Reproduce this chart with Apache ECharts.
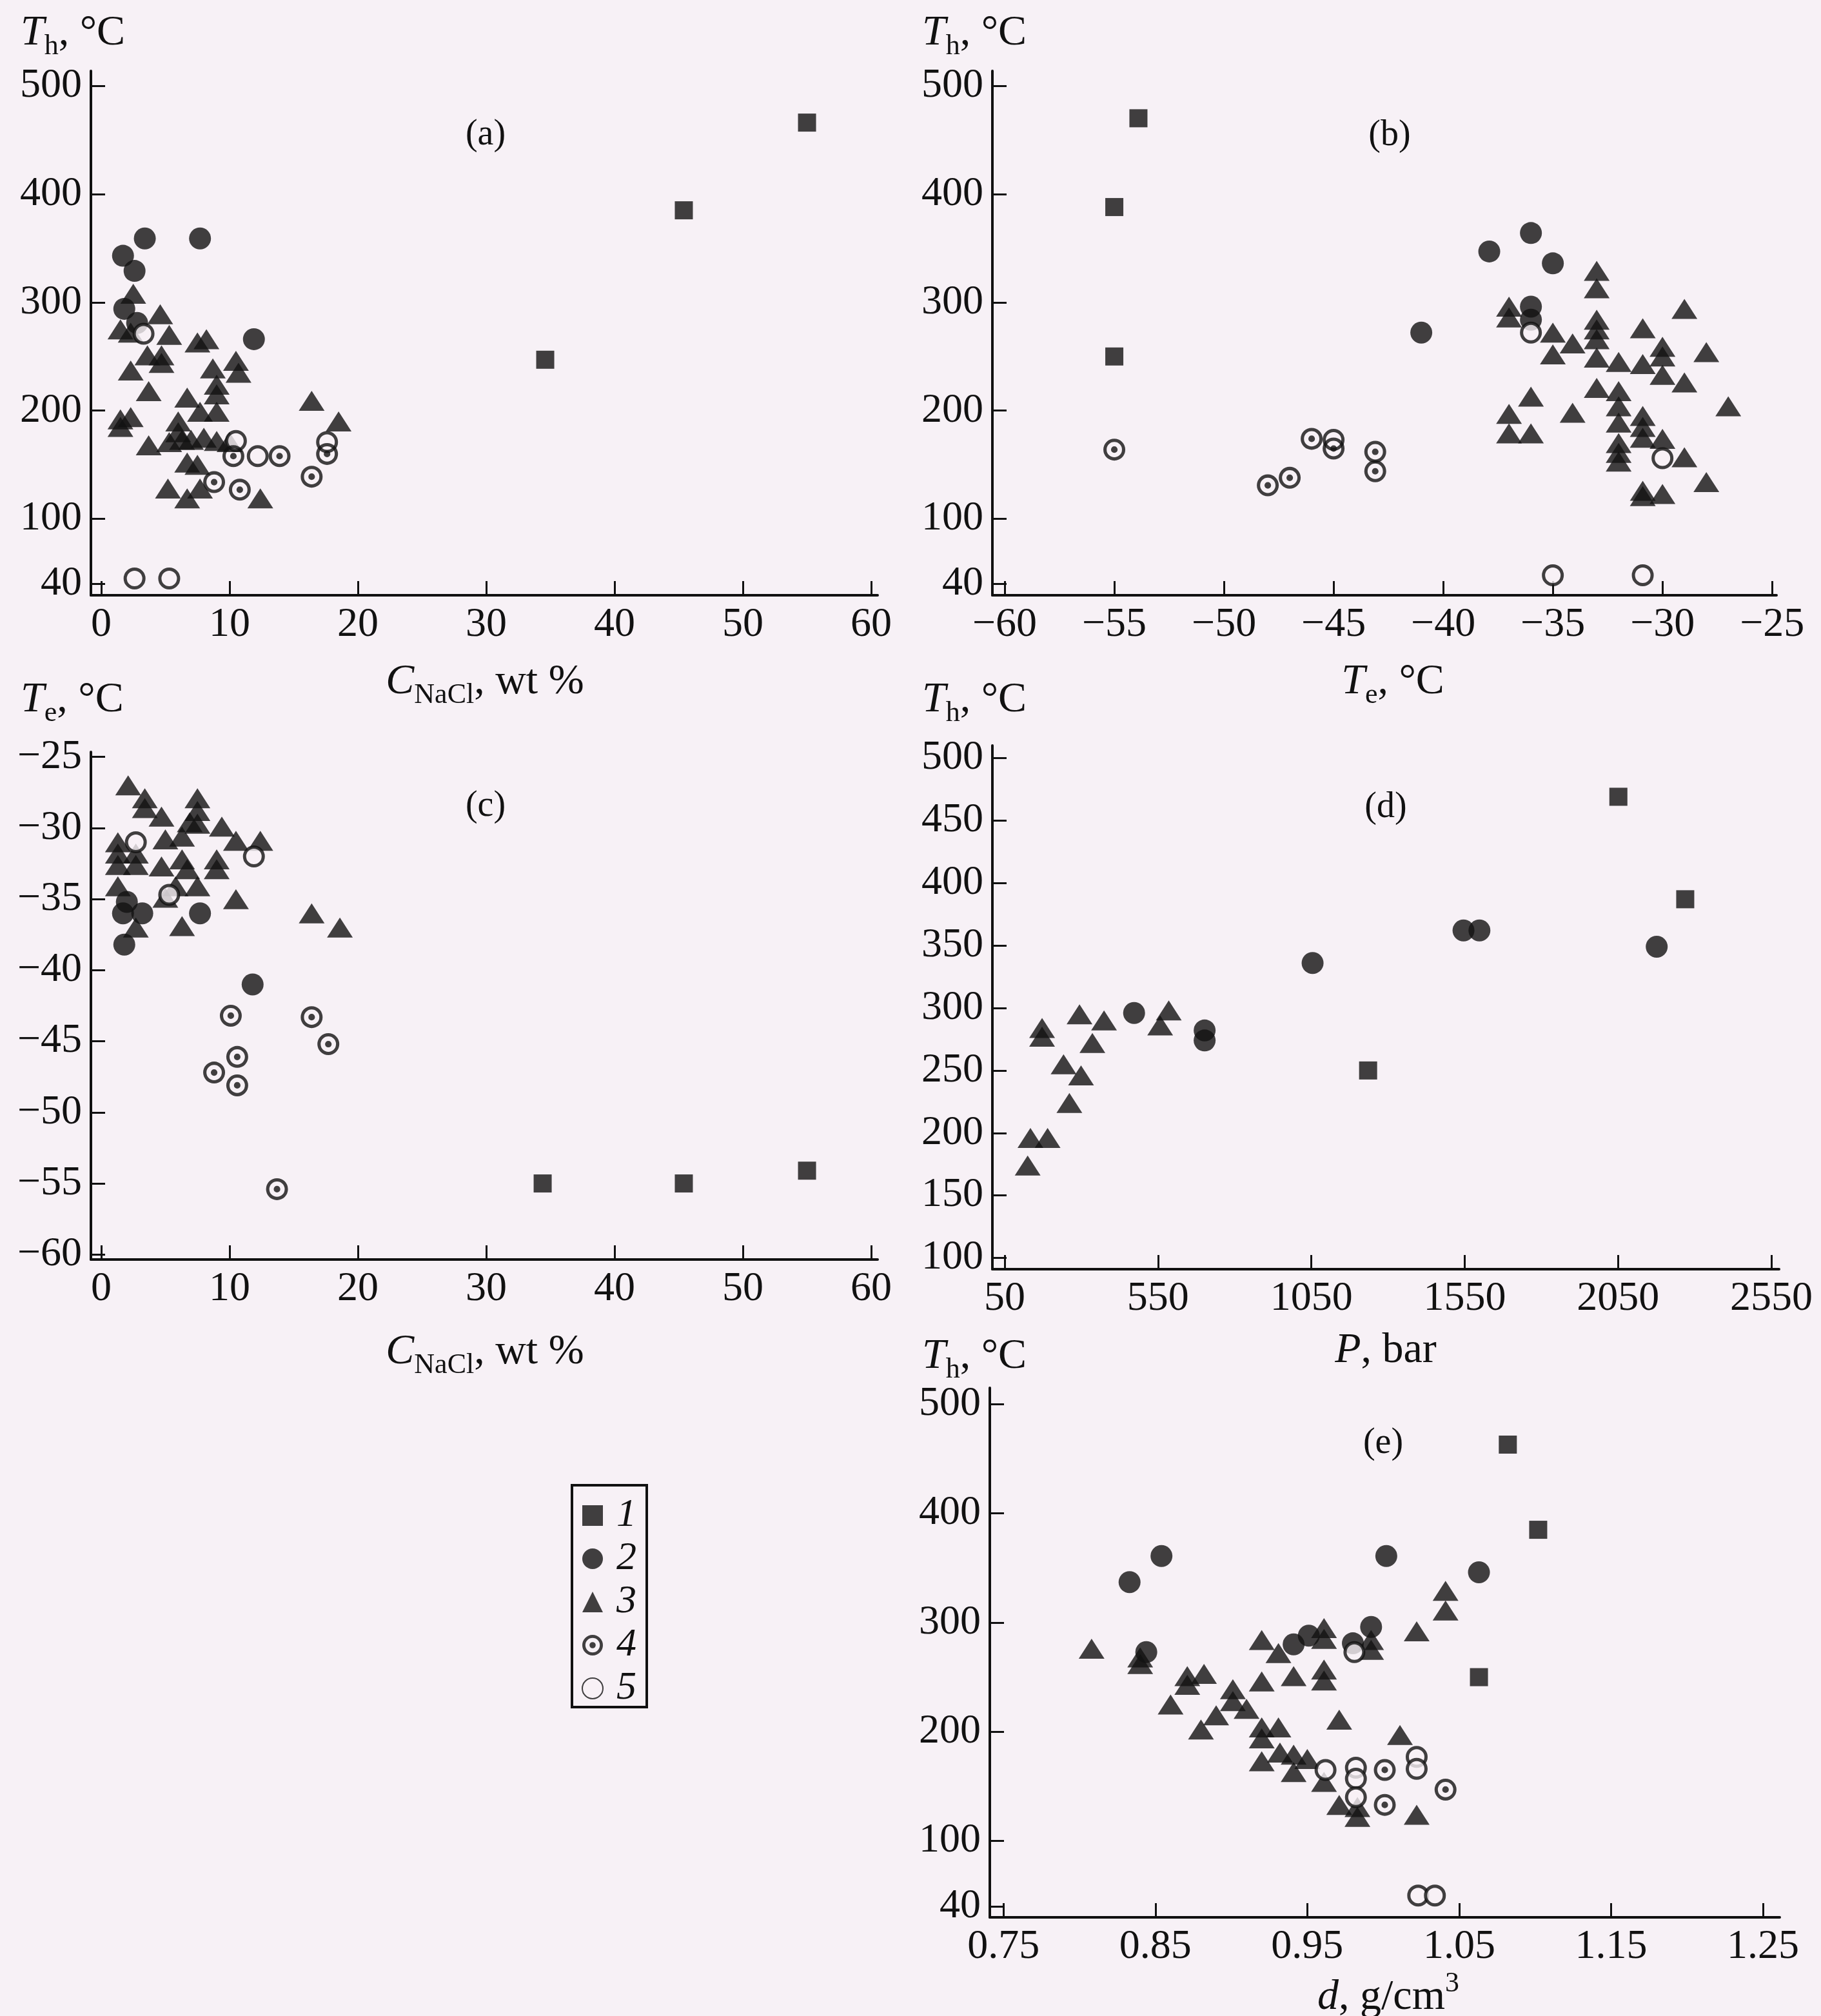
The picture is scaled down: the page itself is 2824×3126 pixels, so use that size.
<!DOCTYPE html>
<html>
<head>
<meta charset="utf-8">
<script src="https://cdn.jsdelivr.net/npm/echarts@6/dist/echarts.min.js"></script>
<style>
  html, body { margin: 0; padding: 0; background: #f7f1f6; }
  #chart { width: 2824px; height: 3126px; }
</style>
</head>
<body>
<div id="chart"></div>
<script>
// ---- tick values ----
const thTicks = [40, 100, 200, 300, 400, 500];
const naclTicks = [0, 10, 20, 30, 40, 50, 60];
const teXTicks = [-60, -55, -50, -45, -40, -35, -30, -25];
const teYTicks = [-60, -55, -50, -45, -40, -35, -30, -25];
const pTicks = [50, 550, 1050, 1550, 2050, 2550];
const thTicksD = [100, 150, 200, 250, 300, 350, 400, 450, 500];
const dTicks = [0.75, 0.85, 0.95, 1.05, 1.15, 1.25];

// ---- (a) Th vs C NaCl ----
const aSquare = [[34.6, 247], [45.4, 385], [55.0, 466]];
const aCircle = [[3.4, 359], [7.7, 359], [1.7, 343], [2.6, 329], [1.8, 294], [2.8, 281], [11.9, 266]];
const aTriangle = [[2.5, 308], [4.6, 289], [1.5, 275], [2.3, 272], [5.3, 270], [7.5, 263], [8.2, 266],
  [3.6, 251], [4.7, 251], [4.7, 244], [2.3, 237], [8.7, 239], [10.5, 246], [10.7, 235], [3.7, 218],
  [6.7, 212], [9.0, 224], [9.0, 215], [7.7, 199], [9.0, 199], [1.5, 192], [2.3, 194], [1.5, 185],
  [16.4, 209], [18.5, 190], [6.0, 190], [6.0, 180], [3.7, 168], [5.3, 171], [6.3, 173], [7.0, 173],
  [8.0, 175], [9.0, 172], [10.0, 171], [6.7, 152], [7.5, 150], [5.2, 128], [7.7, 128], [6.7, 119], [12.4, 119]];
const aDotted = [[10.3, 158], [13.9, 158], [16.4, 139], [8.8, 134], [10.8, 127], [17.6, 160]];
const aOpen = [[10.5, 172], [12.2, 158], [3.3, 271], [17.6, 171], [2.6, 45], [5.3, 45]];

// ---- (b) Th vs Te ----
const bSquare = [[-53.9, 470], [-55, 388], [-55, 250]];
const bCircle = [[-37.9, 347], [-36.0, 364], [-35.0, 336], [-36.0, 296], [-36.0, 284], [-41.0, 272]];
const bTriangle = [[-37, 296], [-37, 286], [-35, 272], [-34.1, 262], [-35, 252], [-33, 329], [-33, 313],
  [-33, 284], [-33, 275], [-33, 266], [-33, 249], [-32, 245], [-30.9, 276], [-30.9, 243], [-30, 259],
  [-30, 250], [-30, 233], [-29, 294], [-29, 226], [-28, 254], [-27, 204], [-36, 213], [-37, 197],
  [-37, 179], [-36, 179], [-34.1, 198], [-33, 221], [-32, 218], [-32, 204], [-32, 189], [-30.9, 195],
  [-30.9, 185], [-30.9, 175], [-30, 174], [-32, 170], [-32, 161], [-32, 153], [-29, 157], [-30.9, 126],
  [-30.9, 121], [-30, 123], [-28, 134]];
const bDotted = [[-55, 164], [-48, 131], [-47, 138], [-46, 174], [-45, 165], [-43.1, 162], [-43.1, 144]];
const bOpen = [[-45, 173], [-36, 272], [-30, 156], [-35, 48], [-30.9, 48]];

// ---- (c) Te vs C NaCl ----
const cSquare = [[34.4, -55], [45.4, -55], [55.0, -54.1]];
const cCircle = [[2.0, -35.2], [1.7, -36.0], [3.2, -36.0], [1.8, -38.2], [7.7, -36.0], [11.8, -41.0]];
const cTriangle = [[2.1, -27.0], [3.4, -27.9], [3.4, -28.6], [4.7, -29.2], [7.5, -27.9], [7.5, -28.8],
  [6.9, -29.6], [7.5, -29.7], [9.4, -29.9], [10.5, -30.9], [12.4, -30.9], [1.3, -31.0], [1.3, -31.8],
  [1.3, -32.6], [2.7, -31.8], [2.7, -32.6], [5.0, -30.8], [6.3, -30.6], [4.7, -32.7], [6.3, -32.2],
  [6.7, -32.9], [9.0, -32.2], [9.0, -32.9], [1.3, -34.1], [5.8, -34.1], [7.5, -34.1], [5.0, -34.9],
  [10.5, -35.0], [2.7, -37.0], [6.3, -36.9], [16.4, -36.0], [18.6, -37.0]];
const cDotted = [[10.1, -43.2], [16.4, -43.3], [17.7, -45.2], [10.6, -46.1], [8.8, -47.2], [10.6, -48.1], [13.7, -55.4]];
const cOpen = [[2.7, -31.0], [11.9, -32.0], [5.3, -34.7]];

// ---- (d) Th vs P ----
const dSquare = [[2051, 469], [2269, 387], [1235, 250]];
const dCircle = [[472, 296], [702, 282], [702, 274], [1054, 336], [1546, 362], [1598, 362], [2176, 349]];
const dTriangle = [[172, 284], [172, 277], [294, 295], [374, 290], [336, 272], [585, 298], [557, 286],
  [242, 255], [299, 246], [261, 224], [134, 196], [190, 196], [125, 174]];
const dDotted = [];
const dOpen = [];

// ---- (e) Th vs density ----
const eSquare = [[1.082, 463], [1.102, 385], [1.063, 250]];
const eCircle = [[0.854, 361], [0.833, 337], [0.844, 273], [1.002, 361], [1.063, 346], [0.992, 296],
  [0.941, 280], [0.951, 288], [0.980, 281]];
const eTriangle = [[0.808, 276], [0.840, 268], [0.840, 262], [0.871, 251], [0.871, 243], [0.882, 253],
  [0.860, 225], [0.880, 202], [0.890, 215], [0.901, 239], [0.901, 228], [0.910, 221], [0.920, 284],
  [0.931, 272], [0.920, 246], [0.941, 251], [0.961, 295], [0.961, 285], [0.961, 257], [0.961, 247],
  [0.992, 284], [0.992, 275], [1.022, 292], [1.041, 329], [1.041, 311], [0.971, 211], [1.011, 197],
  [0.920, 204], [0.931, 204], [0.920, 194], [0.920, 173], [0.932, 181], [0.941, 179], [0.950, 175],
  [0.941, 163], [0.961, 154], [0.971, 133], [0.983, 131], [0.983, 122], [1.022, 124]];
const eDotted = [[1.001, 165], [1.001, 133], [1.041, 147]];
const eOpen = [[0.982, 167], [0.982, 157], [0.982, 140], [1.022, 177], [1.022, 166], [0.962, 165],
  [0.981, 273], [1.023, 50], [1.034, 50]];

const FONT = '"Liberation Serif", "Times New Roman", serif';
const INK = '#111111';
const BG = '#f7f1f6';
const RING = 'path://M0,-10A10,10,0,1,1,0,10A10,10,0,1,1,0,-10ZM0,-7A7,7,0,1,0,0,7A7,7,0,1,0,0,-7ZM0,-3A3,3,0,1,1,0,3A3,3,0,1,1,0,-3Z';

const minus = v => (v < 0 ? '\u2212' + Math.abs(v) : String(v));

function xAx(i, min, max, ticks, fmt) {
  return {
    type: 'value', gridIndex: i, min: min, max: max,
    axisLine: { show: true, onZero: false, lineStyle: { color: INK, width: 4 } },
    axisTick: { show: true, inside: true, length: 22, customValues: ticks, lineStyle: { color: INK, width: 3 } },
    axisLabel: { customValues: ticks, margin: 14, fontFamily: FONT, fontSize: 64, color: INK, formatter: fmt || minus },
    splitLine: { show: false }
  };
}
function yAx(i, min, max, ticks) {
  return {
    type: 'value', gridIndex: i, min: min, max: max,
    axisLine: { show: true, onZero: false, lineStyle: { color: INK, width: 4 } },
    axisTick: { show: true, inside: true, length: 22, customValues: ticks, lineStyle: { color: INK, width: 3 } },
    axisLabel: { customValues: ticks, margin: 14, fontFamily: FONT, fontSize: 64, color: INK, formatter: minus },
    splitLine: { show: false }
  };
}

function panel(i, sq, ci, tr, dt, op) {
  const base = { type: 'scatter', xAxisIndex: i, yAxisIndex: i, silent: true, animation: false };
  return [
    Object.assign({}, base, { name: '3', data: tr, symbol: 'triangle', symbolSize: [40, 31], itemStyle: { color: INK } }),
    Object.assign({}, base, { name: '2', data: ci, symbol: 'circle', symbolSize: 34, itemStyle: { color: INK } }),
    Object.assign({}, base, { name: '1', data: sq, symbol: 'rect', symbolSize: 28, itemStyle: { color: INK } }),
    Object.assign({}, base, { name: '5', data: op, symbol: 'circle', symbolSize: 29, itemStyle: { color: BG, borderColor: INK, borderWidth: 5 } }),
    Object.assign({}, base, { name: '4', data: dt, symbol: RING, symbolSize: 34, itemStyle: { color: INK } })
  ];
}

// text pieces: [text, kind]  i = italic, n = normal, s = subscript, p = superscript
const mctx = document.createElement('canvas').getContext('2d');
function tw(t, size, italic) {
  mctx.font = (italic ? 'italic ' : '') + size + 'px "Liberation Serif"';
  return mctx.measureText(t).width;
}
function label(pieces, x, y, center) {
  const items = pieces.map(p => {
    const size = (p[1] === 's' || p[1] === 'p') ? 44 : 66;
    return { t: p[0], k: p[1], size: size, w: tw(p[0], size, p[1] === 'i') };
  });
  const total = items.reduce((s, it) => s + it.w, 0);
  let cx = center ? x - total / 2 : x;
  return items.map(it => {
    const el = {
      type: 'text', x: cx, y: y + (it.k === 's' ? 20 : it.k === 'p' ? -22 : 0), silent: true,
      style: { text: it.t, fontSize: it.size, fontFamily: FONT, fontStyle: it.k === 'i' ? 'italic' : 'normal',
        fill: INK, align: 'left', verticalAlign: 'middle' }
    };
    cx += it.w;
    return el;
  });
}
function tag(t, x, y) {
  return { type: 'text', x: x, y: y, silent: true,
    style: { text: t, fontSize: 56, fontFamily: FONT, fill: INK, align: 'center', verticalAlign: 'middle' } };
}

const thName = [['T', 'i'], ['h', 's'], [', \u00B0C', 'n']];
const teName = [['T', 'i'], ['e', 's'], [', \u00B0C', 'n']];
const naclName = [['C', 'i'], ['NaCl', 's'], [', wt %', 'n']];

const elements = [].concat(
  label(thName, 32, 52, false),
  label(thName, 1430, 52, false),
  label(teName, 32, 1086, false),
  label(thName, 1430, 1086, false),
  label(thName, 1430, 2104, false),
  label(naclName, 752, 1058, true),
  label(teName, 2160, 1058, true),
  label(naclName, 752, 2097, true),
  label([['P', 'i'], [', bar', 'n']], 2149, 2095, true),
  label([['d', 'i'], [', g/cm', 'n'], ['3', 'p']], 2153, 3098, true),
  [tag('(a)', 753, 209), tag('(b)', 2155, 210), tag('(c)', 753, 1250), tag('(d)', 2149, 1252), tag('(e)', 2145, 2238)],
  [{ type: 'rect', silent: true, shape: { x: 887, y: 2303, width: 116, height: 344 },
     style: { fill: 'none', stroke: INK, lineWidth: 4 } }]
);

const chart = echarts.init(document.getElementById('chart'), null, { renderer: 'canvas' });
const option = {
  backgroundColor: BG,
  animation: false,
  grid: [
    { left: 141, top: 110, width: 1220, height: 813 },
    { left: 1539, top: 110, width: 1216, height: 813 },
    { left: 141, top: 1166, width: 1220, height: 787 },
    { left: 1539, top: 1156, width: 1220, height: 812 },
    { left: 1535, top: 2152, width: 1225, height: 821 }
  ],
  xAxis: [
    xAx(0, -0.8, 60.5, naclTicks),
    xAx(1, -60.56, -24.8, teXTicks),
    xAx(2, -0.8, 60.5, naclTicks),
    xAx(3, 10, 2575, pTicks),
    xAx(4, 0.741, 1.261, dTicks, v => v.toFixed(2))
  ],
  yAxis: [
    yAx(0, 29.5, 513.7, thTicks),
    yAx(1, 29.5, 513.7, thTicks),
    yAx(2, -60.35, -24.65, teYTicks),
    yAx(3, 91, 510, thTicksD),
    yAx(4, 30, 515, thTicks)
  ],
  legend: {
    orient: 'vertical', left: 897, top: 2314, itemWidth: 32, itemHeight: 32, itemGap: 5,
    selectedMode: false,
    textStyle: { fontFamily: FONT, fontStyle: 'italic', fontSize: 62, lineHeight: 62, color: INK, padding: [0, 0, 0, 16] },
    data: [
      { name: '1', icon: 'rect' },
      { name: '2', icon: 'circle' },
      { name: '3', icon: 'triangle' },
      { name: '4', icon: RING },
      { name: '5', icon: 'circle' }
    ]
  },
  graphic: { elements: elements },
  series: [].concat(
    panel(0, aSquare, aCircle, aTriangle, aDotted, aOpen),
    panel(1, bSquare, bCircle, bTriangle, bDotted, bOpen),
    panel(2, cSquare, cCircle, cTriangle, cDotted, cOpen),
    panel(3, dSquare, dCircle, dTriangle, dDotted, dOpen),
    panel(4, eSquare, eCircle, eTriangle, eDotted, eOpen)
  )
};
chart.setOption(option);
</script>
</body>
</html>
